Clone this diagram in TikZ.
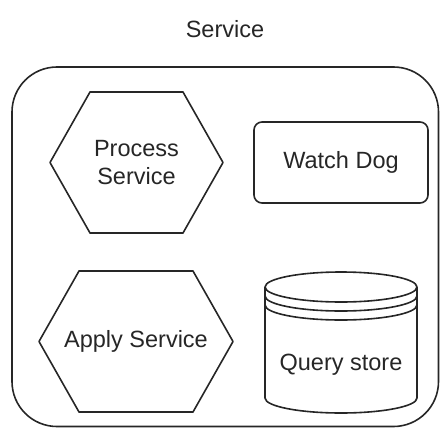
\documentclass[tikz,border=0pt]{standalone}
\usepackage{fontspec}
\setmainfont{Liberation Sans}
\begin{document}
\begin{tikzpicture}[x=1pt,y=-1pt,
  outline/.style={draw=black!85, line width=1.6pt, line join=round},
  lbl/.style={text=black!85, font=\fontsize{23.5}{28}\selectfont, align=center, inner sep=0pt}]
\useasboundingbox (0,0) rectangle (441,428);

% title above the container
\node[lbl] (title) at (225,29) {Service};

% container
\draw[outline, rounded corners=45pt] (12,67) rectangle (438.5,426.5);

% Process Service hexagon
\draw[outline] (90,92) -- (183,92) -- (223,162.5) -- (183,233) -- (90,233) -- (50,162.5) -- cycle;
\node[lbl] (proc) at (136.5,163) {Process\\Service};

% Watch Dog box
\draw[outline, rounded corners=8pt] (254,122) rectangle (428,203);
\node[lbl] (dog) at (341,162.5) {Watch Dog};

% Apply Service hexagon
\draw[outline] (79,271) -- (193,271) -- (233,341.5) -- (193,412) -- (79,412) -- (39,341.5) -- cycle;
\node[lbl] (apply) at (136,341.5) {Apply Service};

% Query store data store (y axis points down, so 180 -> 0 is the lower half)
\draw[outline] (265,287) -- (265,398) arc[start angle=180, end angle=0, x radius=76, y radius=15] -- (417,287);
\draw[outline, fill=white] (341,287) ellipse[x radius=76, y radius=15];
\draw[outline] (265,296) arc[start angle=180, end angle=0, x radius=76, y radius=15];
\draw[outline] (265,305) arc[start angle=180, end angle=0, x radius=76, y radius=15];
\node[lbl] (store) at (341,365) {Query store};
\end{tikzpicture}
\end{document}
